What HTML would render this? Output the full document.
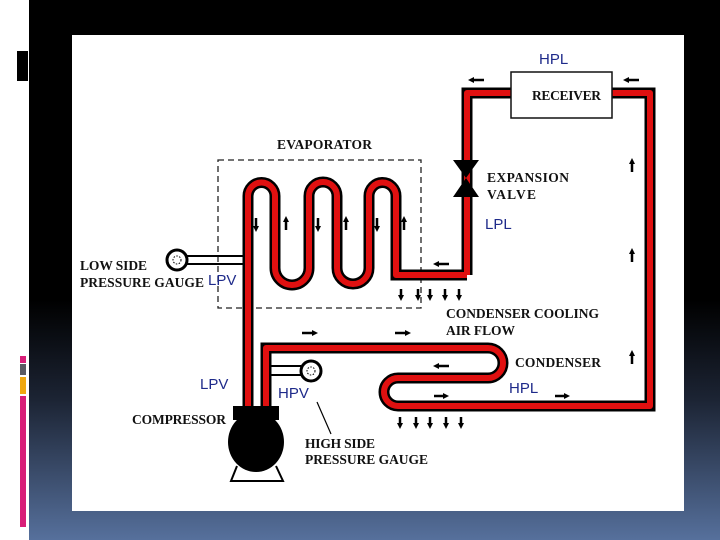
<!DOCTYPE html>
<html><head><style>
html,body{margin:0;padding:0}
body{width:720px;height:540px;position:relative;overflow:hidden;background:#fff;font-family:"Liberation Serif",serif}
#bg{position:absolute;left:29px;top:0;width:691px;height:540px;background:linear-gradient(#000 0px,#000 300px,#1c2434 400px,#56709c 540px)}
svg{position:absolute;left:0;top:0}
</style></head><body>
<div id="bg"></div>
<svg width="720" height="540" viewBox="0 0 720 540">
<rect x="17" y="51" width="11" height="30" fill="#000"/>
<rect x="20" y="356" width="6" height="7" fill="#d81e78"/>
<rect x="20" y="364" width="6" height="11" fill="#5a5a62"/>
<rect x="20" y="377" width="6" height="17" fill="#f0a810"/>
<rect x="20" y="396" width="6" height="131" fill="#d81e78"/>
<rect x="72" y="35" width="612" height="476" fill="#fff"/>

<rect x="218" y="160" width="203" height="148" fill="none" stroke="#222" stroke-width="1.3" stroke-dasharray="6,4"/>

<g fill="none" stroke-linejoin="round">
<g id="pipes">
<path d="M467 275 L396 275 L396 196 A13.5 13.5 0 0 0 369 196 L369 268 A16 16 0 0 1 337 268 L337 196 A14 14 0 0 0 309 196 L309 268 A17 17 0 0 1 275 268 L275 196 A13.5 13.5 0 0 0 248 196 L248 415"/>
<path d="M467 275 L467 93 L512 93"/>
<path d="M611 93 L650 93 L650 406 L398 406 A14 14 0 0 1 398 378 L488 378 A15 15 0 0 0 488 348 L266 348 L266 412"/>
</g>
</g>
<use href="#pipes" stroke="#000" stroke-width="11" fill="none"/>
<g fill="none" stroke="#e01010" stroke-width="6" stroke-linejoin="round">
<path d="M467 275 L396 275 L396 196 A13.5 13.5 0 0 0 369 196 L369 268 A16 16 0 0 1 337 268 L337 196 A14 14 0 0 0 309 196 L309 268 A17 17 0 0 1 275 268 L275 196 A13.5 13.5 0 0 0 248 196 L248 415"/>
<path d="M467 275 L467 93 L512 93"/>
<path d="M611 93 L650 93 L650 406 L398 406 A14 14 0 0 1 398 378 L488 378 A15 15 0 0 0 488 348 L266 348 L266 412"/>
</g>

<rect x="511" y="72" width="101" height="46" fill="#fff" stroke="#111" stroke-width="1.5"/>
<polygon points="453,160 479,160 466,178 479,197 453,197 466,178" fill="#000"/>

<path d="M186 256 L243 256 M186 264 L243 264" stroke="#000" stroke-width="2"/>
<circle cx="177" cy="260" r="10" fill="#fff" stroke="#000" stroke-width="3"/>
<circle cx="177" cy="260" r="4" fill="none" stroke="#000" stroke-width="1" stroke-dasharray="1.5,1.5"/>
<path d="M271 366 L301 366 M271 375 L301 375" stroke="#000" stroke-width="2"/>
<circle cx="311" cy="371" r="10" fill="#fff" stroke="#000" stroke-width="3"/>
<circle cx="311" cy="371" r="4" fill="none" stroke="#000" stroke-width="1" stroke-dasharray="1.5,1.5"/>
<path d="M317 402 L331 434" stroke="#000" stroke-width="1.2"/>

<rect x="233" y="406" width="46" height="14" fill="#000"/>
<ellipse cx="256" cy="442" rx="28" ry="30" fill="#000"/>
<path d="M237 466 L231 481 L283 481 L276 466" fill="none" stroke="#000" stroke-width="2"/>

<g stroke="#000" stroke-width="2.5" fill="#000">
<path d="M256 218 v10"/><path d="M286 230 v-10"/><path d="M318 218 v10"/><path d="M346 230 v-10"/><path d="M377 218 v10"/><path d="M404 230 v-10"/>
<path d="M632 172 v-10"/><path d="M632 262 v-10"/><path d="M632 364 v-10"/>
<path d="M401 289 v8"/><path d="M418 289 v8"/><path d="M430 289 v8"/><path d="M445 289 v8"/><path d="M459 289 v8"/>
<path d="M400 417 v8"/><path d="M416 417 v8"/><path d="M430 417 v8"/><path d="M446 417 v8"/><path d="M461 417 v8"/>
<path d="M302 333 h12"/><path d="M395 333 h12"/><path d="M437 264 h12"/>
<path d="M437 366 h12"/><path d="M434 396 h10"/><path d="M555 396 h10"/>
<path d="M472 80 h12"/><path d="M627 80 h12"/>
</g>
<g fill="#000">
<polygon points="256,232 253,226 259,226"/><polygon points="286,216 283,222 289,222"/><polygon points="318,232 315,226 321,226"/><polygon points="346,216 343,222 349,222"/><polygon points="377,232 374,226 380,226"/><polygon points="404,216 401,222 407,222"/>
<polygon points="632,158 629,164 635,164"/><polygon points="632,248 629,254 635,254"/><polygon points="632,350 629,356 635,356"/>
<polygon points="433,264 439,261 439,267"/><polygon points="433,366 439,363 439,369"/><polygon points="468,80 474,77 474,83"/><polygon points="623,80 629,77 629,83"/>
<polygon points="318,333 312,330 312,336"/><polygon points="411,333 405,330 405,336"/>
<polygon points="449,396 443,393 443,399"/><polygon points="570,396 564,393 564,399"/>
<polygon points="401,301 398,295 404,295"/><polygon points="418,301 415,295 421,295"/><polygon points="430,301 427,295 433,295"/><polygon points="445,301 442,295 448,295"/><polygon points="459,301 456,295 462,295"/>
<polygon points="400,429 397,423 403,423"/><polygon points="416,429 413,423 419,423"/><polygon points="430,429 427,423 433,423"/><polygon points="446,429 443,423 449,423"/><polygon points="461,429 458,423 464,423"/>
</g>

<g font-family="Liberation Serif, serif" font-size="13.5" fill="#111" font-weight="bold" style="font-weight:600">
<text x="277" y="149" textLength="95">EVAPORATOR</text>
<text x="532" y="100" textLength="69">RECEIVER</text>
<text x="487" y="182" textLength="82">EXPANSION</text>
<text x="487" y="199" textLength="49">VALVE</text>
<text x="80" y="270" textLength="67">LOW SIDE</text>
<text x="80" y="287" textLength="124">PRESSURE GAUGE</text>
<text x="446" y="318" textLength="153">CONDENSER COOLING</text>
<text x="446" y="335" textLength="69">AIR FLOW</text>
<text x="515" y="367" textLength="86">CONDENSER</text>
<text x="132" y="424" textLength="94">COMPRESSOR</text>
<text x="305" y="448" textLength="70">HIGH SIDE</text>
<text x="305" y="464" textLength="123">PRESSURE GAUGE</text>
</g>
<g font-family="Liberation Sans, sans-serif" font-size="15" fill="#1e2a8a">
<text x="539" y="64">HPL</text>
<text x="485" y="229">LPL</text>
<text x="208" y="285">LPV</text>
<text x="200" y="389">LPV</text>
<text x="278" y="398">HPV</text>
<text x="509" y="393">HPL</text>
</g>
</svg>
</body></html>
